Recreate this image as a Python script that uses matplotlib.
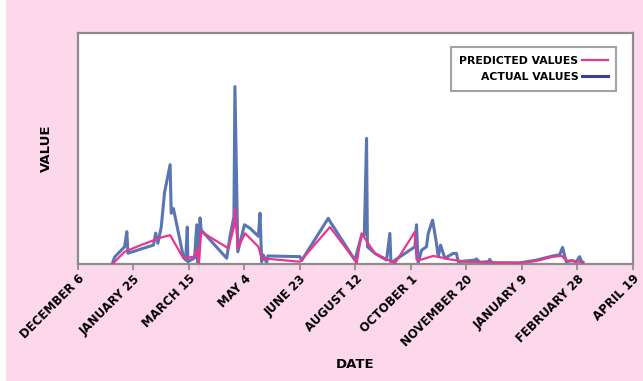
import numpy as np
import matplotlib
matplotlib.use("Agg")
import matplotlib.pyplot as plt
from matplotlib.patches import Rectangle

# x values are days counted from December 6
tick_labels = ["DECEMBER 6", "JANUARY 25", "MARCH 15", "MAY 4", "JUNE 23", "AUGUST 12",
               "OCTOBER 1", "NOVEMBER 20", "JANUARY 9", "FEBRUARY 28", "APRIL 19"]
tick_days = [0, 50, 100, 150, 200, 250, 300, 350, 400, 450, 500]

actual_days = [31, 33, 42, 44, 45, 68, 70, 72, 75, 78, 83, 84, 86, 95, 97, 98.5, 99, 105, 107, 108,
               110, 111, 134, 137, 140.5, 141.4, 144, 150, 155, 162.5, 164, 165.5, 167, 170, 171,
               200, 201.5, 225.5, 227, 249.5, 255.6, 258, 260, 260.8, 267.6, 278, 281, 282, 285.6,
               303.6, 305, 306.5, 309.6, 314, 315.6, 319.5, 323, 324.6, 326.7, 330.6, 338, 341,
               342.6, 357.6, 359, 362, 369.7, 371, 373, 398, 413, 428, 434, 436.6, 438.7, 440,
               445, 449, 452, 453.7, 455]
actual_vals = [0.3, 3, 7.5, 14, 4.7, 8.2, 13.4, 9, 16, 31, 43, 22, 24, 3, 1.7, 16, 1, 2.6, 17, 0,
               20, 14.7, 2.5, 12, 20.5, 76.8, 5.3, 17, 15.5, 12, 22, 1, 3.9, 0.5, 3.5,
               3.2, 1.5, 19.8, 18.5, 1.7, 12.5, 12.5, 54.4, 7.5, 4.6, 1.7, 13.3, 0.3, 1.7,
               7.5, 17, 0.5, 6, 7.5, 13.3, 19, 9, 3.2, 8.2, 2.5, 4.6, 4.6,
               1, 1.7, 2.2, 0.8, 1, 2, 0.5, 0.5, 1.7, 3.5, 4, 7.2, 3.2, 1,
               1.5, 1, 3.2, 1, 0.8]

pred_days = [31, 42, 53, 65, 75, 83, 95, 105, 107.5, 109, 111, 135.5, 140.5, 141.4, 144, 150.5,
             162.5, 165.5, 200, 227, 249.5, 251, 255.6, 260, 267.6, 285.6, 303.6, 305, 308, 320,
             326, 335, 350, 368, 398, 413, 428, 436, 440, 452, 455]
pred_vals = [0, 5.3, 7.5, 9.7, 11.5, 12.5, 2.5, 3.2, 6.8, 0, 14, 6.8, 16, 24, 6.8, 13.3,
             7.5, 2.5, 1, 16, 1.7, 0, 13.3, 10, 4.6, 0.3, 14, 2, 1.7, 3.5,
             3, 2, 1, 0.7, 0.5, 1.3, 3.2, 3.5, 1.5, 1, 0.5]

plt.rcParams['font.family'] = ['Liberation Sans Narrow', 'DejaVu Sans']

fig = plt.figure(figsize=(6.43, 3.81), dpi=100, facecolor='#fdd8ea')
# thin white strip along the left edge of the page
fig.patches.append(Rectangle((0, 0), 6 / 643, 1, transform=fig.transFigure,
                             facecolor='white', edgecolor='none'))
ax = fig.add_axes([0.1213, 0.307, 0.863, 0.6063])
ax.set_facecolor('white')

ax.plot(actual_days, actual_vals, color='#4766aa', lw=2.2, alpha=0.9, label='ACTUAL VALUES', zorder=2)
ax.plot(pred_days, pred_vals, color='#e8378f', lw=1.6, label='PREDICTED VALUES', zorder=3)

ax.set_xlim(0, 500)
ax.set_ylim(0, 100)
ax.set_yticks([])
ax.set_xticks(tick_days)
ax.set_xticklabels(tick_labels, rotation=45, ha='right', rotation_mode='anchor',
                   fontsize=8.5, fontweight='bold')
ax.tick_params(axis='x', length=4, color='#888888', width=1.2, pad=2)
for s in ax.spines.values():
    s.set_color('#8c8c8c')
    s.set_linewidth(1.6)

ax.set_xlabel('DATE', fontsize=9.5, fontweight='bold', labelpad=7)
ax.set_ylabel('VALUE', fontsize=9.5, fontweight='bold', labelpad=18)

handles, labels = ax.get_legend_handles_labels()
leg = ax.legend(handles[::-1], labels[::-1], loc='upper right', markerfirst=False,
                fancybox=False, prop={'weight': 'bold', 'size': 7.8}, handlelength=2.4,
                borderpad=0.8, labelspacing=0.55, handletextpad=0.3,
                bbox_to_anchor=(0.98, 0.962))
leg.get_frame().set_edgecolor('#8c8c8c')
leg.get_frame().set_linewidth(1.5)
leg.legend_handles[1].set_color('#3b3f8f')
leg.legend_handles[1].set_alpha(1)
for t in leg.get_texts():
    t.set_ha('right')

fig.savefig('out.png', dpi=100, facecolor=fig.get_facecolor())
